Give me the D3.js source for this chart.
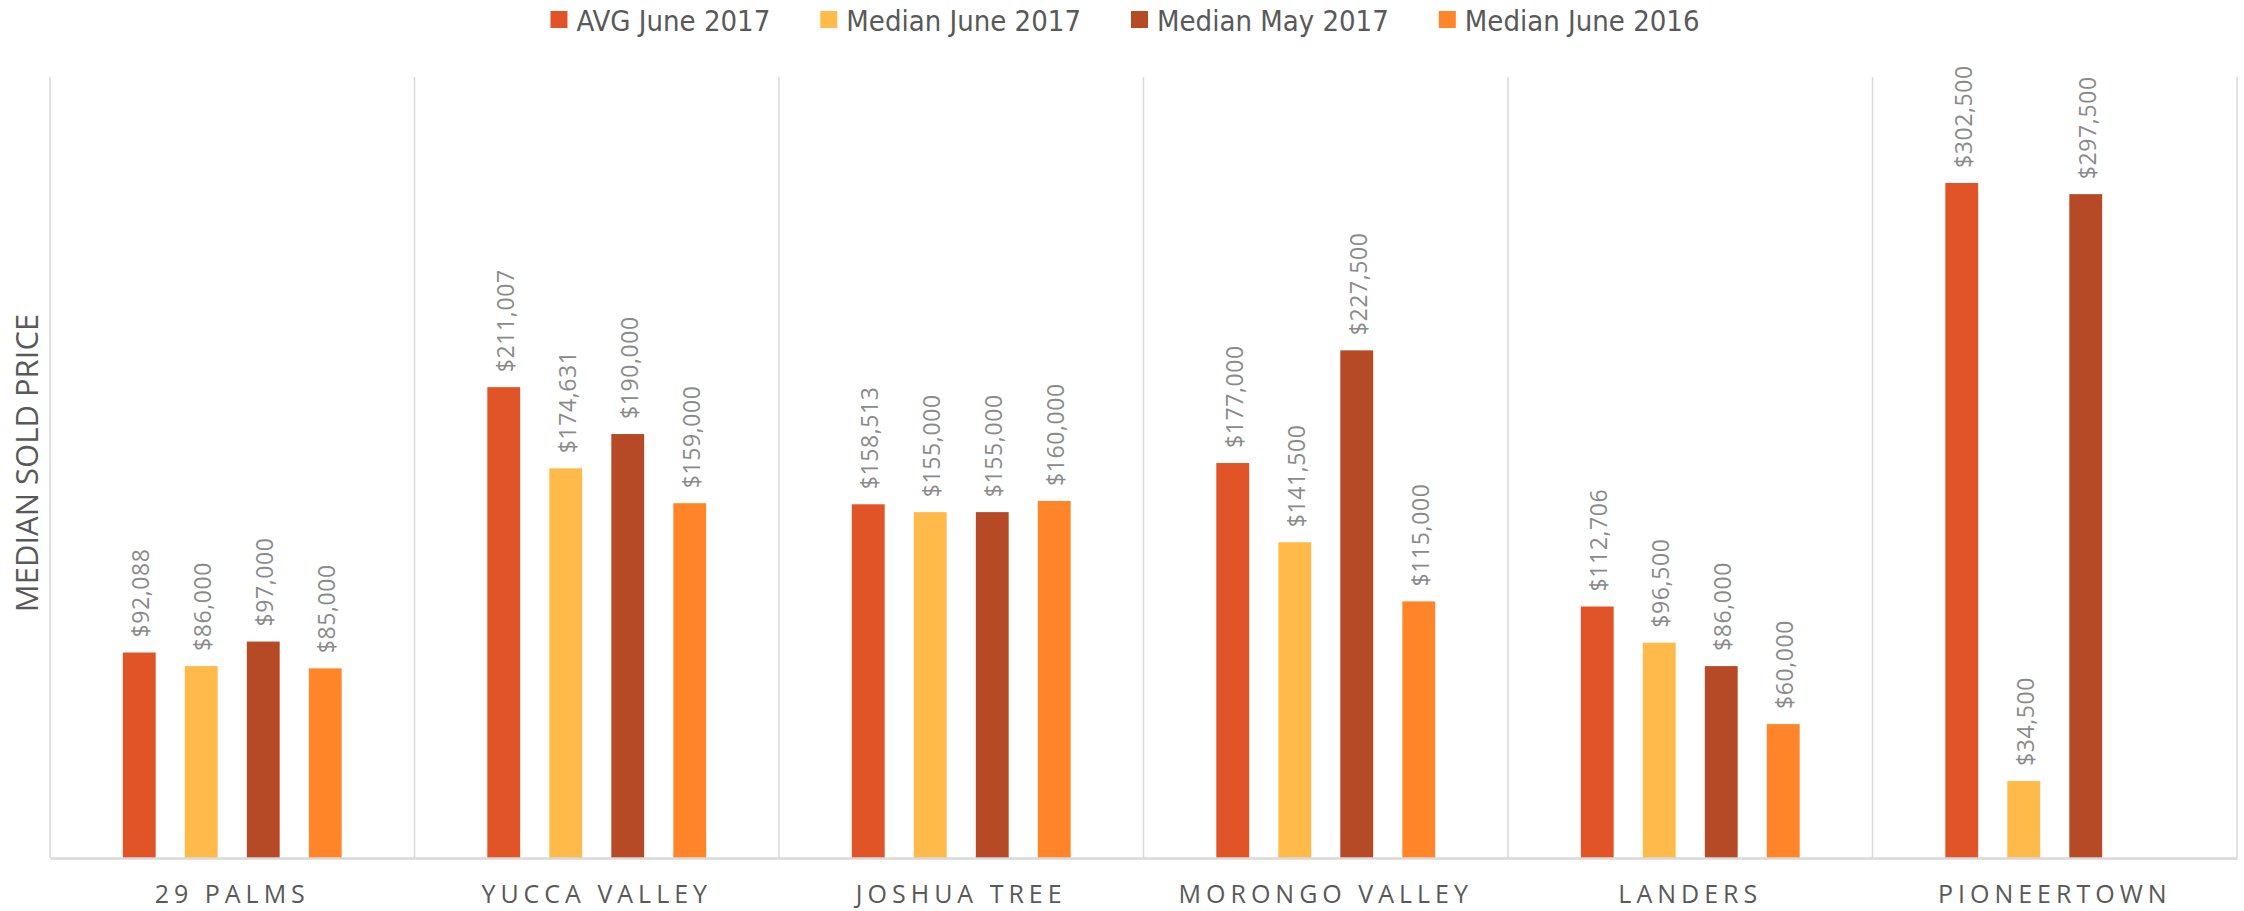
<!DOCTYPE html>
<html>
<head>
<meta charset="utf-8">
<script src="https://cdn.jsdelivr.net/npm/d3@7"></script>
<style>
  body { margin: 0; background: #fff; }
  svg { display: block; }
</style>
</head>
<body>
<svg></svg>
<script>
// Set variables

let towns = ['29 PALMS', 'YUCCA VALLEY', 'JOSHUA TREE', 'MORONGO VALLEY', 'LANDERS', 'PIONEERTOWN']
let seriesNames = ['AVG June 2017', 'Median June 2017', 'Median May 2017', 'Median June 2016']
let seriesColors = ['#e15427', '#ffba49', '#b64926', '#ff8528']

let avgJune2017 = [92088, 211007, 158513, 177000, 112706, 302500]
let medianJune2017 = [86000, 174631, 155000, 141500, 96500, 34500]
let medianMay2017 = [97000, 190000, 155000, 227500, 86000, 297500]
let medianJune2016 = [85000, 159000, 160000, 115000, 60000, null]

let seriesValues = [avgJune2017, medianJune2017, medianMay2017, medianJune2016]

let width = 2244
let height = 911
let plotLeft = 50
let plotRight = 2237
let plotTop = 77
let plotBottom = 858

let svg = d3.select('svg')
    .attr('width', width)
    .attr('height', height)

// Scales

let xScale = d3.scaleBand()
    .domain(towns)
    .range([plotLeft, plotRight])

let band = xScale.bandwidth()
let step = 62

let innerScale = d3.scaleBand()
    .domain(seriesNames)
    .range([band / 2 - 2 * step, band / 2 + 2 * step])
    .paddingInner(0.47)
    .paddingOuter(0.235)

let yScale = d3.scaleLinear()
    .domain([0, 350000])
    .range([plotBottom, plotTop])

// Separators between categories

let edges = towns.map((t) => xScale(t)).concat([plotRight])

svg.append('g')
    .selectAll('line')
    .data(edges)
    .enter()
    .append('line')
    .attr('x1', (d) => d)
    .attr('x2', (d) => d)
    .attr('y1', plotTop)
    .attr('y2', plotBottom)
    .attr('stroke', '#d9d9d9')
    .attr('stroke-width', 1.5)

// Bars

let rows = []
towns.forEach((town, i) => {
    seriesNames.forEach((name, j) => {
        let v = seriesValues[j][i]
        if (v != null) rows.push({ town: town, name: name, value: v, color: seriesColors[j] })
    })
})

svg.append('g')
    .selectAll('rect')
    .data(rows)
    .enter()
    .append('rect')
    .attr('x', (d) => xScale(d.town) + innerScale(d.name))
    .attr('y', (d) => yScale(d.value))
    .attr('width', innerScale.bandwidth())
    .attr('height', (d) => plotBottom - yScale(d.value))
    .attr('fill', (d) => d.color)

// Data labels

svg.append('g')
    .selectAll('text')
    .data(rows)
    .enter()
    .append('text')
    .attr('transform', (d) => {
        let cx = xScale(d.town) + innerScale(d.name) + innerScale.bandwidth() / 2 + 1
        let cy = yScale(d.value) - 15
        return 'translate(' + cx + ',' + cy + ') rotate(-90)'
    })
    .attr('dominant-baseline', 'central')
    .attr('font-family', 'Open Sans, sans-serif')
    .attr('font-size', 23)
    .attr('letter-spacing', 0.6)
    .attr('fill', '#8a8a8a')
    .text((d) => '$' + d3.format(',')(d.value))

// Baseline axis

let xAxis = d3.axisBottom(xScale).tickSize(0).tickPadding(0)

let axisG = svg.append('g')
    .attr('transform', 'translate(0,' + plotBottom + ')')
    .call(xAxis)

axisG.select('.domain')
    .attr('stroke', '#d9d9d9')
    .attr('stroke-width', 2.5)

axisG.selectAll('.tick text')
    .attr('y', 45)
    .attr('dy', 0)
    .attr('font-family', 'Open Sans, sans-serif')
    .attr('font-size', 25)
    .attr('letter-spacing', 5)
    .attr('fill', '#595959')

// Y axis title

svg.append('text')
    .attr('transform', 'translate(26,' + 463 + ') rotate(-90)')
    .attr('text-anchor', 'middle')
    .attr('dominant-baseline', 'central')
    .attr('font-family', 'Open Sans, sans-serif')
    .attr('font-size', 31)
    .attr('fill', '#595959')
    .text('MEDIAN SOLD PRICE')

// Legend

let legend = svg.append('g')
let gap = 50
let lx = 0
seriesNames.forEach((name, i) => {
    let item = legend.append('g').attr('transform', 'translate(' + lx + ',0)')
    item.append('rect')
        .attr('x', 0)
        .attr('y', 11)
        .attr('width', 17)
        .attr('height', 17)
        .attr('fill', seriesColors[i])
    let t = item.append('text')
        .attr('x', 26)
        .attr('y', 31)
        .attr('font-family', 'DejaVu Sans Condensed, DejaVu Sans, sans-serif')
        .attr('font-stretch', 'condensed')
        .attr('font-size', 29)
        .attr('fill', '#595959')
        .text(name)
    lx += 26 + t.node().getComputedTextLength() + gap
})
let legendWidth = lx - gap
legend.attr('transform', 'translate(' + (1125 - legendWidth / 2) + ',0)')
</script>
</body>
</html>
